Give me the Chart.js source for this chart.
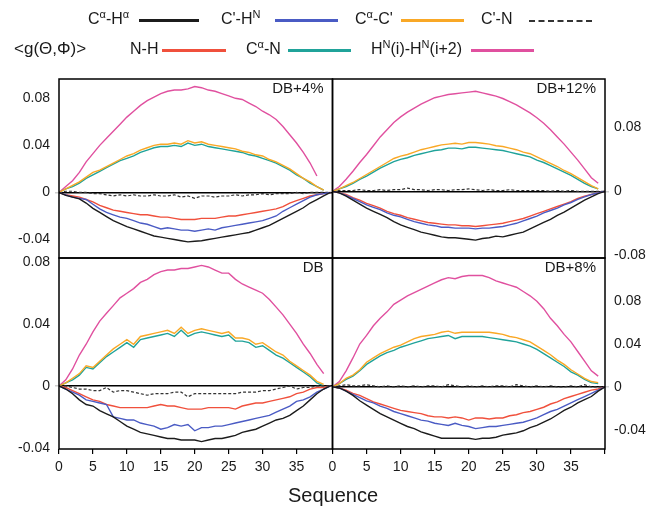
<!DOCTYPE html>
<html>
<head>
<meta charset="utf-8">
<script src="https://cdn.jsdelivr.net/npm/chart.js@4.4.1/dist/chart.umd.min.js"></script>
<style>
    body { margin: 0; background: #fff; }
    #wrap { position: relative; width: 652px; height: 506px; font-family: "Liberation Sans", Arial, sans-serif; color: #1a1a1a; }
    canvas { position: absolute; left: 0; top: 0; }
    .t { position: absolute; font-size: 16px; line-height: 18px; white-space: nowrap; }
    .ln { position: absolute; height: 3px; }
    .dash { position: absolute; height: 0; border-top: 2px dashed #333; }
    sup { font-size: 11px; vertical-align: 6px; line-height: 0; }
</style>
</head>
<body>
<div id="wrap">
    <canvas id="tl" width="652" height="506"></canvas>
    <canvas id="tr" width="652" height="506"></canvas>
    <canvas id="bl" width="652" height="506"></canvas>
    <canvas id="br" width="652" height="506"></canvas>

    <div class="t" style="left:88px;top:10px">C<sup>α</sup>-H<sup>α</sup></div>
    <div class="ln" style="left:139px;top:19px;width:60px;background:#1c1c1c"></div>
    <div class="t" style="left:221px;top:10px">C'-H<sup>N</sup></div>
    <div class="ln" style="left:275px;top:19px;width:63px;background:#4a5bc4"></div>
    <div class="t" style="left:355px;top:10px">C<sup>α</sup>-C'</div>
    <div class="ln" style="left:401px;top:19px;width:63px;background:#f9a826"></div>
    <div class="t" style="left:481px;top:10px">C'-N</div>
    <div class="dash" style="left:529px;top:20px;width:63px"></div>

    <div class="t" style="left:14px;top:40px;font-size:17px">&lt;g(Θ,Φ)&gt;</div>
    <div class="t" style="left:130px;top:40px">N-H</div>
    <div class="ln" style="left:162px;top:49px;width:64px;background:#f0503c"></div>
    <div class="t" style="left:246px;top:40px">C<sup>α</sup>-N</div>
    <div class="ln" style="left:288px;top:49px;width:63px;background:#20a39a"></div>
    <div class="t" style="left:371px;top:40px">H<sup>N</sup>(i)-H<sup>N</sup>(i+2)</div>
    <div class="ln" style="left:471px;top:49px;width:63px;background:#e0509f"></div>

    <div class="t" style="left:0;width:666px;top:484px;font-size:20px;line-height:22px;text-align:center">Sequence</div>
</div>
<script>
// tick values
const xTicksLeft = [0, 5, 10, 15, 20, 25, 30, 35];
const xTicksRight = [0, 5, 10, 15, 20, 25, 30, 35, 40];
const yTicksTL = [-0.04, 0, 0.04, 0.08];
const yTicksTR = [-0.08, 0, 0.08];
const yTicksBL = [-0.04, 0, 0.04, 0.08];
const yTicksBR = [-0.04, 0, 0.04, 0.08];

// DB+4% (top left), residue 0..40
const db4CaHa = [0,-0.0025,-0.004,-0.0055,-0.009,-0.0135,-0.017,-0.0205,-0.024,-0.0265,-0.029,-0.031,-0.033,-0.035,-0.037,-0.038,-0.039,-0.040,-0.041,-0.042,-0.0415,-0.041,-0.040,-0.039,-0.038,-0.037,-0.036,-0.035,-0.034,-0.032,-0.030,-0.028,-0.025,-0.022,-0.019,-0.016,-0.013,-0.009,-0.006,-0.003,0];
const db4CHn = [0,-0.002,-0.004,-0.005,-0.006,-0.010,-0.014,-0.017,-0.019,-0.021,-0.022,-0.024,-0.026,-0.027,-0.029,-0.031,-0.030,-0.031,-0.032,-0.032,-0.033,-0.032,-0.031,-0.032,-0.030,-0.029,-0.028,-0.027,-0.026,-0.025,-0.024,-0.022,-0.020,-0.016,-0.013,-0.010,-0.007,-0.004,-0.002,-0.001,0];
const db4CaC = [0,0.003,0.006,0.009,0.013,0.017,0.019,0.022,0.025,0.028,0.031,0.033,0.036,0.038,0.040,0.041,0.041,0.042,0.041,0.044,0.042,0.043,0.041,0.040,0.039,0.038,0.037,0.035,0.034,0.032,0.031,0.028,0.026,0.023,0.020,0.016,0.012,0.009,0.005,0.002];
const db4CN = [0,0.001,0.001,0,0,-0.001,-0.001,-0.002,-0.003,-0.002,-0.003,-0.002,-0.003,-0.003,-0.002,-0.003,-0.003,-0.002,-0.004,-0.003,-0.005,-0.003,-0.003,-0.004,-0.003,-0.003,-0.002,-0.003,-0.002,-0.002,-0.001,-0.002,-0.001,-0.001,-0.001,0,-0.001,0,0,0,0];
const db4NH = [0,-0.002,-0.003,-0.004,-0.006,-0.008,-0.011,-0.013,-0.015,-0.016,-0.017,-0.018,-0.019,-0.019,-0.020,-0.021,-0.021,-0.022,-0.023,-0.023,-0.023,-0.022,-0.022,-0.022,-0.021,-0.020,-0.020,-0.019,-0.018,-0.017,-0.016,-0.015,-0.014,-0.012,-0.009,-0.007,-0.005,-0.003,-0.002,-0.001,0];
const db4CaN = [0,0.003,0.005,0.008,0.012,0.015,0.018,0.021,0.024,0.027,0.029,0.031,0.034,0.036,0.038,0.039,0.039,0.040,0.039,0.042,0.040,0.041,0.039,0.038,0.037,0.036,0.035,0.034,0.032,0.031,0.029,0.027,0.025,0.022,0.019,0.015,0.012,0.008,0.005,0.002];
const db4HnHn = [0,0.005,0.010,0.017,0.026,0.033,0.040,0.046,0.052,0.058,0.064,0.069,0.074,0.078,0.081,0.084,0.086,0.087,0.087,0.088,0.090,0.089,0.087,0.086,0.084,0.082,0.080,0.079,0.076,0.073,0.069,0.066,0.062,0.056,0.049,0.042,0.034,0.025,0.014];

// DB+12% (top right)
const db12CaHa = [0,-0.002,-0.006,-0.011,-0.016,-0.021,-0.025,-0.029,-0.033,-0.038,-0.042,-0.045,-0.048,-0.051,-0.053,-0.055,-0.057,-0.058,-0.058,-0.059,-0.060,-0.061,-0.059,-0.058,-0.056,-0.057,-0.055,-0.053,-0.051,-0.047,-0.043,-0.039,-0.035,-0.030,-0.026,-0.021,-0.016,-0.011,-0.007,-0.003,0];
const db12CHn = [0,-0.002,-0.005,-0.009,-0.013,-0.017,-0.020,-0.023,-0.027,-0.030,-0.032,-0.035,-0.038,-0.040,-0.042,-0.043,-0.045,-0.045,-0.046,-0.046,-0.046,-0.047,-0.046,-0.046,-0.045,-0.044,-0.042,-0.040,-0.037,-0.034,-0.031,-0.027,-0.024,-0.021,-0.017,-0.014,-0.010,-0.007,-0.004,-0.002,0];
const db12CaC = [0,0.003,0.007,0.011,0.016,0.021,0.026,0.031,0.036,0.041,0.044,0.046,0.049,0.052,0.054,0.056,0.058,0.059,0.060,0.059,0.061,0.061,0.060,0.059,0.057,0.056,0.054,0.052,0.049,0.047,0.043,0.039,0.035,0.031,0.026,0.022,0.017,0.012,0.007,0.003];
const db12CN = [0,0.001,0.001,0.001,0.002,0.001,0.001,0.002,0.001,0.002,0.002,0.004,0.002,0.002,0.001,0.002,0.002,0.001,0.002,0.002,0.003,0.002,0.001,0.002,0.001,0.001,0.002,0.001,0.001,0.001,0.001,0.001,0,0.001,0,0.001,0,0,0,0,0];
const db12NH = [0,-0.002,-0.004,-0.008,-0.011,-0.015,-0.018,-0.021,-0.025,-0.028,-0.030,-0.033,-0.035,-0.037,-0.039,-0.040,-0.041,-0.042,-0.042,-0.043,-0.043,-0.044,-0.043,-0.042,-0.041,-0.040,-0.038,-0.036,-0.034,-0.031,-0.028,-0.025,-0.022,-0.019,-0.016,-0.013,-0.009,-0.006,-0.004,-0.002,0];
const db12CaN = [0,0.003,0.006,0.010,0.015,0.019,0.024,0.029,0.033,0.037,0.040,0.042,0.045,0.047,0.049,0.051,0.052,0.054,0.054,0.053,0.055,0.055,0.054,0.053,0.052,0.051,0.049,0.047,0.045,0.043,0.039,0.036,0.032,0.028,0.024,0.020,0.015,0.010,0.006,0.003];
const db12HnHn = [0,0.006,0.015,0.025,0.036,0.046,0.057,0.068,0.077,0.086,0.093,0.099,0.104,0.109,0.113,0.117,0.119,0.121,0.122,0.123,0.124,0.125,0.123,0.121,0.119,0.116,0.112,0.108,0.103,0.098,0.092,0.085,0.077,0.068,0.059,0.049,0.039,0.028,0.017,0.010];

// DB (bottom left)
const dbCaHa = [0,-0.002,-0.005,-0.009,-0.012,-0.013,-0.016,-0.018,-0.020,-0.023,-0.026,-0.028,-0.030,-0.031,-0.032,-0.033,-0.034,-0.034,-0.035,-0.035,-0.035,-0.036,-0.035,-0.034,-0.034,-0.033,-0.032,-0.030,-0.029,-0.028,-0.026,-0.024,-0.022,-0.021,-0.019,-0.016,-0.013,-0.009,-0.005,-0.002,0];
const dbCHn = [0,-0.002,-0.004,-0.006,-0.009,-0.010,-0.011,-0.012,-0.020,-0.021,-0.022,-0.022,-0.024,-0.025,-0.026,-0.028,-0.027,-0.025,-0.026,-0.025,-0.029,-0.027,-0.027,-0.026,-0.026,-0.025,-0.024,-0.023,-0.022,-0.021,-0.020,-0.019,-0.017,-0.015,-0.013,-0.010,-0.009,-0.007,-0.004,-0.002,0];
const dbCaC = [0,0.002,0.005,0.008,0.013,0.012,0.016,0.020,0.024,0.027,0.030,0.027,0.032,0.033,0.034,0.035,0.036,0.034,0.038,0.034,0.036,0.037,0.036,0.035,0.034,0.035,0.031,0.031,0.030,0.027,0.028,0.025,0.022,0.020,0.016,0.013,0.010,0.007,0.003,0.001];
const dbCN = [0,0,-0.001,-0.002,-0.002,-0.003,-0.003,-0.001,-0.004,-0.003,-0.003,-0.004,-0.005,-0.006,-0.005,-0.005,-0.005,-0.004,-0.004,-0.007,-0.005,-0.005,-0.005,-0.005,-0.005,-0.005,-0.005,-0.004,-0.004,-0.004,-0.003,-0.003,-0.002,-0.001,0,-0.002,-0.001,-0.001,0,0,0];
const dbNH = [0,-0.001,-0.003,-0.005,-0.007,-0.009,-0.010,-0.012,-0.013,-0.014,-0.014,-0.014,-0.014,-0.014,-0.013,-0.012,-0.013,-0.013,-0.014,-0.015,-0.015,-0.015,-0.014,-0.014,-0.014,-0.014,-0.015,-0.013,-0.012,-0.011,-0.011,-0.010,-0.009,-0.008,-0.007,-0.005,-0.004,-0.002,-0.001,-0.001,0];
const dbCaN = [0,0.002,0.004,0.007,0.012,0.011,0.015,0.019,0.022,0.025,0.028,0.025,0.030,0.031,0.032,0.033,0.034,0.032,0.036,0.032,0.034,0.035,0.034,0.033,0.032,0.033,0.029,0.029,0.028,0.025,0.026,0.023,0.020,0.018,0.015,0.012,0.009,0.006,0.002,0];
const dbHnHn = [0,0.004,0.011,0.020,0.027,0.035,0.042,0.047,0.052,0.057,0.060,0.063,0.067,0.069,0.072,0.074,0.075,0.075,0.076,0.076,0.077,0.078,0.077,0.075,0.073,0.073,0.069,0.066,0.064,0.062,0.060,0.056,0.051,0.046,0.040,0.034,0.027,0.021,0.014,0.008];

// DB+8% (bottom right)
const db8CaHa = [0,-0.001,-0.004,-0.008,-0.013,-0.017,-0.021,-0.025,-0.028,-0.031,-0.034,-0.037,-0.039,-0.042,-0.044,-0.046,-0.048,-0.048,-0.048,-0.048,-0.048,-0.049,-0.048,-0.048,-0.047,-0.045,-0.044,-0.043,-0.041,-0.038,-0.036,-0.033,-0.030,-0.026,-0.022,-0.019,-0.015,-0.012,-0.009,-0.004,0];
const db8CHn = [0,-0.001,-0.004,-0.007,-0.010,-0.013,-0.015,-0.018,-0.020,-0.023,-0.025,-0.027,-0.029,-0.031,-0.032,-0.034,-0.035,-0.036,-0.034,-0.036,-0.037,-0.039,-0.038,-0.037,-0.037,-0.036,-0.035,-0.034,-0.033,-0.031,-0.029,-0.026,-0.023,-0.021,-0.018,-0.015,-0.012,-0.009,-0.006,-0.003,0];
const db8CaC = [0,0.003,0.008,0.011,0.016,0.023,0.027,0.031,0.034,0.037,0.039,0.042,0.045,0.047,0.048,0.049,0.051,0.052,0.050,0.051,0.051,0.051,0.051,0.051,0.050,0.049,0.047,0.046,0.044,0.042,0.038,0.034,0.030,0.025,0.021,0.016,0.012,0.008,0.005,0.004];
const db8CN = [0,0.001,0.002,0.001,0.001,0.002,0.001,0,0.001,0,0.001,0,0.001,0,0.001,0.001,0,0.002,0.001,0,0.001,0,0.001,0,0.001,0.001,0,0.002,0.001,0,0.001,0,0.001,0,0,0.001,0,0.002,0,0,0];
const db8NH = [0,-0.001,-0.003,-0.006,-0.008,-0.011,-0.014,-0.016,-0.018,-0.020,-0.022,-0.023,-0.024,-0.025,-0.027,-0.028,-0.028,-0.029,-0.028,-0.029,-0.031,-0.029,-0.029,-0.030,-0.029,-0.029,-0.027,-0.026,-0.024,-0.023,-0.021,-0.019,-0.016,-0.014,-0.011,-0.009,-0.007,-0.005,-0.003,-0.002,0];
const db8CaN = [0,0.003,0.007,0.010,0.015,0.021,0.025,0.029,0.032,0.034,0.037,0.039,0.041,0.043,0.045,0.046,0.047,0.048,0.045,0.047,0.047,0.047,0.047,0.046,0.045,0.044,0.043,0.042,0.040,0.038,0.035,0.031,0.027,0.023,0.019,0.014,0.011,0.007,0.004,0.003];
const db8HnHn = [0,0.005,0.015,0.027,0.040,0.048,0.057,0.064,0.070,0.077,0.081,0.085,0.088,0.091,0.094,0.097,0.100,0.102,0.101,0.103,0.104,0.104,0.104,0.102,0.099,0.097,0.095,0.093,0.089,0.085,0.080,0.073,0.064,0.057,0.049,0.042,0.033,0.024,0.015,0.010];

const colors = {
    caha: "#1c1c1c",
    chn: "#4a5bc4",
    cac: "#f9a826",
    cn: "#333333",
    nh: "#f0503c",
    can: "#20a39a",
    hnhn: "#e0509f"
};

const fontFamily = '"Liberation Sans", Arial, sans-serif';

function line(values, color, dashed) {
    return {
        data: values.map((v, i) => ({ x: i, y: v })),
        borderColor: color,
        borderWidth: dashed ? 1.2 : 1.4,
        borderDash: dashed ? [3, 2] : [],
        pointRadius: 0,
        tension: 0,
        fill: false
    };
}

const framePlugin = {
    id: "frame",
    afterDatasetsDraw(chart, args, opts) {
        const { ctx, chartArea: a } = chart;
        ctx.save();
        ctx.strokeStyle = "#000";
        ctx.lineWidth = 1.5;
        ctx.strokeRect(a.left, a.top, a.right - a.left, a.bottom - a.top);
        ctx.fillStyle = "#1a1a1a";
        ctx.font = "15px " + fontFamily;
        ctx.textAlign = "right";
        ctx.textBaseline = "middle";
        ctx.fillText(opts.label, a.right - 9, a.top + 10);
        ctx.restore();
    }
};

function makePanel(id, cfg) {
    const yScale = {
        type: "linear",
        position: cfg.side,
        min: cfg.yMin,
        max: cfg.yMax,
        border: { display: false },
        grid: {
            drawOnChartArea: true,
            color: (c) => (c.tick && c.tick.value === 0 ? "#000" : "rgba(0,0,0,0)"),
            lineWidth: (c) => (c.tick && c.tick.value === 0 ? 1.5 : 0),
            tickColor: "#cfcfcf",
            tickLength: 4
        },
        ticks: {
            color: "#1a1a1a",
            padding: 5,
            font: { family: fontFamily, size: 14 },
            callback: (v) => (v === 0 ? "0" : v.toFixed(2))
        },
        afterBuildTicks: (scale) => {
            scale.ticks = cfg.yTicks.map((v) => ({ value: v }));
        },
        afterFit: (scale) => {
            scale.width = cfg.yWidth;
            scale.paddingTop = 0;
            scale.paddingBottom = 0;
        }
    };

    const xScale = {
        type: "linear",
        min: 0,
        max: cfg.xMax,
        display: cfg.xTicks !== null,
        border: { display: false },
        grid: { drawOnChartArea: false, color: "#000", tickLength: 5, lineWidth: 1.2 },
        ticks: {
            color: "#1a1a1a",
            padding: 5,
            maxRotation: 0,
            font: { family: fontFamily, size: 14 },
            callback: (v) => (v === 40 ? "" : String(v))
        },
        afterBuildTicks: (scale) => {
            if (cfg.xTicks) {
                scale.ticks = cfg.xTicks.map((v) => ({ value: v }));
            }
        },
        afterFit: (scale) => {
            scale.height = cfg.xTicks ? 30 : 0;
            scale.paddingLeft = 0;
            scale.paddingRight = 0;
        }
    };

    return new Chart(document.getElementById(id), {
        type: "line",
        data: {
            datasets: [
                line(cfg.series[0], colors.caha, false),
                line(cfg.series[1], colors.chn, false),
                line(cfg.series[2], colors.cac, false),
                line(cfg.series[3], colors.cn, true),
                line(cfg.series[4], colors.nh, false),
                line(cfg.series[5], colors.can, false),
                line(cfg.series[6], colors.hnhn, false)
            ]
        },
        options: {
            responsive: false,
            animation: false,
            layout: { padding: cfg.padding },
            scales: { x: xScale, y: yScale },
            plugins: {
                legend: { display: false },
                tooltip: { enabled: false },
                frame: { label: cfg.label }
            }
        },
        plugins: [framePlugin]
    });
}

makePanel("tl", {
    label: "DB+4%",
    side: "left",
    yWidth: 59,
    yMin: -0.0557,
    yMax: 0.0964,
    yTicks: yTicksTL,
    xMax: 40.3,
    xTicks: null,
    padding: { left: 0, top: 79, right: 319.5, bottom: 248 },
    series: [db4CaHa, db4CHn, db4CaC, db4CN, db4NH, db4CaN, db4HnHn]
});

makePanel("tr", {
    label: "DB+12%",
    side: "right",
    yWidth: 47,
    yMin: -0.0834,
    yMax: 0.1404,
    yTicks: yTicksTR,
    xMax: 40,
    xTicks: null,
    padding: { left: 332.5, top: 79, right: 0, bottom: 248 },
    series: [db12CaHa, db12CHn, db12CaC, db12CN, db12NH, db12CaN, db12HnHn]
});

makePanel("bl", {
    label: "DB",
    side: "left",
    yWidth: 59,
    yMin: -0.0408,
    yMax: 0.0828,
    yTicks: yTicksBL,
    xMax: 40.3,
    xTicks: xTicksLeft,
    padding: { left: 0, top: 258, right: 319.5, bottom: 27 },
    series: [dbCaHa, dbCHn, dbCaC, dbCN, dbNH, dbCaN, dbHnHn]
});

makePanel("br", {
    label: "DB+8%",
    side: "right",
    yWidth: 47,
    yMin: -0.058,
    yMax: 0.1203,
    yTicks: yTicksBR,
    xMax: 40,
    xTicks: xTicksRight,
    padding: { left: 332.5, top: 258, right: 0, bottom: 27 },
    series: [db8CaHa, db8CHn, db8CaC, db8CN, db8NH, db8CaN, db8HnHn]
});
</script>
</body>
</html>
